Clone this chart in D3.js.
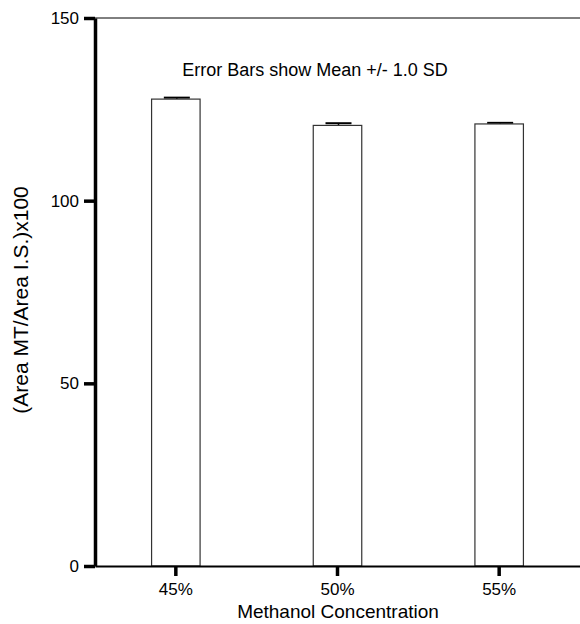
<!DOCTYPE html>
<html>
<head>
<meta charset="utf-8">
<script src="https://cdn.jsdelivr.net/npm/d3@7"></script>
<style>
  body { margin: 0; background: #fff; }
  svg { font-family: "Liberation Sans", Arial, sans-serif; }
</style>
</head>
<body>
<svg width="580" height="624"></svg>
<script>
// data
const categories = ['45%', '50%', '55%']
const means = [127.8, 120.6, 121.0]
const sds = [0.4, 0.6, 0.3]
const yTicks = [0, 50, 100, 150]

const svg = d3.select('svg')
const margin = {top: 18, right: 0, bottom: 58, left: 95}
const width = 580 - margin.left - margin.right
const height = 624 - margin.top - margin.bottom
const group = svg.append('g')
  .attr('transform', 'translate(' + margin.left + ',' + margin.top + ')')

const x = d3.scaleBand()
  .domain(categories)
  .range([0, width])
  .paddingInner(0.7)
  .paddingOuter(0.35)
const y = d3.scaleLinear().domain([0, 150]).range([height, 0])

const data = categories.map((c, i) => ({cat: c, mean: means[i], sd: sds[i]}))

// top frame line
group.append('line')
  .attr('x1', 0).attr('x2', width)
  .attr('y1', y(150)).attr('y2', y(150))
  .attr('stroke', '#000').attr('stroke-width', 1)

// error bars (drawn under the bars)
const capW = 26
group.selectAll('.err')
  .data(data)
  .enter()
  .append('g')
  .attr('class', 'err')
  .each(function(d) {
    const g = d3.select(this)
    const cx = x(d.cat) + x.bandwidth() / 2 + 1
    g.append('line')
      .attr('x1', cx).attr('x2', cx)
      .attr('y1', y(d.mean)).attr('y2', y(d.mean + d.sd))
      .attr('stroke', '#000').attr('stroke-width', 1.5)
    g.append('line')
      .attr('x1', cx - capW / 2).attr('x2', cx + capW / 2)
      .attr('y1', y(d.mean + d.sd)).attr('y2', y(d.mean + d.sd))
      .attr('stroke', '#000').attr('stroke-width', 2)
  })

// bars
group.selectAll('.bar')
  .data(data)
  .enter()
  .append('rect')
  .attr('class', 'bar')
  .attr('x', d => x(d.cat))
  .attr('y', d => y(d.mean))
  .attr('width', x.bandwidth())
  .attr('height', d => height - y(d.mean))
  .attr('fill', '#fff')
  .attr('stroke', '#333')
  .attr('stroke-width', 1.2)

// axes
const yAxis = group.append('g')
  .attr('class', 'axis axis-y')
  .call(d3.axisLeft(y).tickValues(yTicks).tickSize(11).tickPadding(5).tickSizeOuter(0))
yAxis.select('.domain').attr('stroke-width', 3.5)
yAxis.selectAll('.tick line').attr('stroke-width', 3.5)
yAxis.selectAll('.tick text')
  .attr('font-size', 17)
  .attr('font-family', '"Liberation Sans", Arial, sans-serif')
  .attr('fill', '#000')

const xAxis = group.append('g')
  .attr('class', 'axis axis-x')
  .attr('transform', 'translate(0,' + height + ')')
  .call(d3.axisBottom(x).tickSize(10).tickPadding(7).tickSizeOuter(0))
xAxis.select('.domain').attr('stroke-width', 2)
xAxis.selectAll('.tick line').attr('stroke-width', 3.5)
xAxis.selectAll('.tick text')
  .attr('font-size', 17)
  .attr('font-family', '"Liberation Sans", Arial, sans-serif')
  .attr('fill', '#000')

// labels
svg.append('text')
  .attr('x', 338)
  .attr('y', 618)
  .attr('text-anchor', 'middle')
  .attr('font-size', 19)
  .text('Methanol Concentration')

svg.append('text')
  .attr('transform', 'translate(28,' + 300 + ') rotate(-90)')
  .attr('text-anchor', 'middle')
  .attr('font-size', 21)
  .text('(Area MT/Area I.S.)x100')

svg.append('text')
  .attr('x', 315)
  .attr('y', 76)
  .attr('text-anchor', 'middle')
  .attr('font-size', 18)
  .text('Error Bars show Mean +/- 1.0 SD')
</script>
</body>
</html>
